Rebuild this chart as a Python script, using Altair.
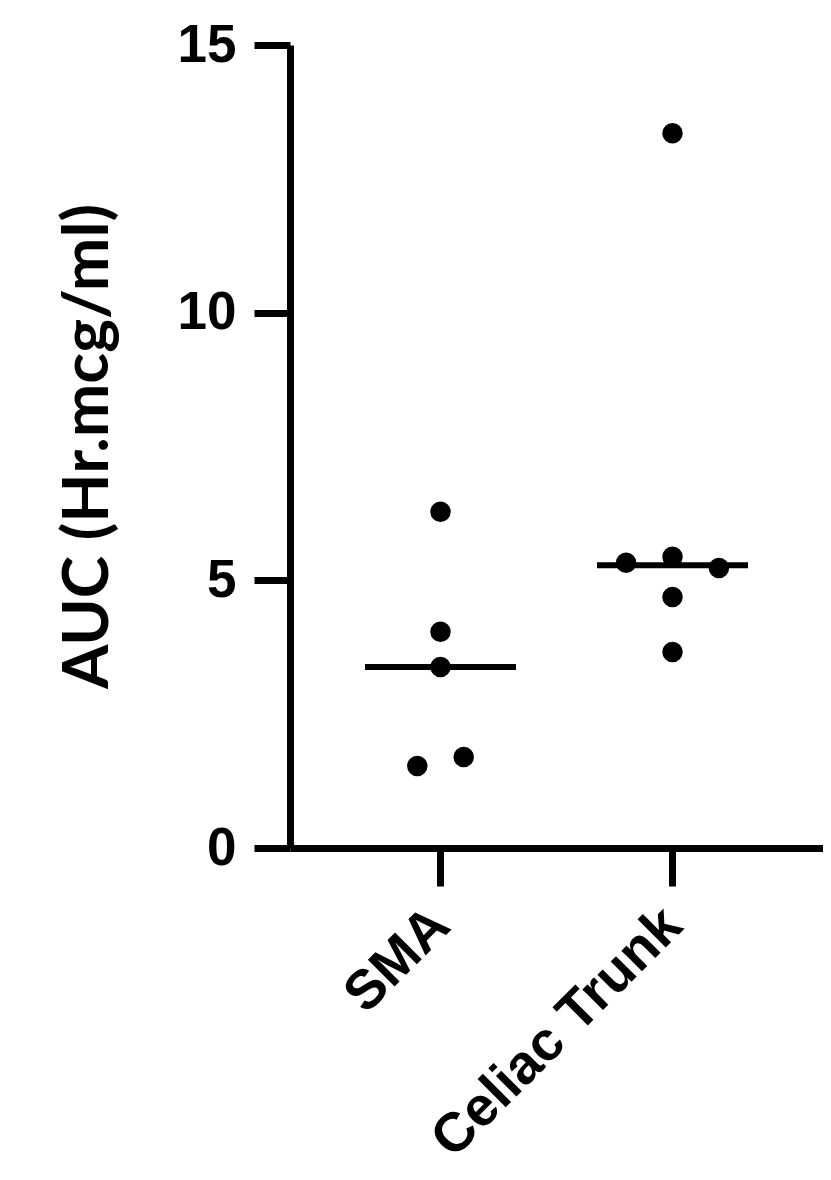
import altair as alt
import pandas as pd

# Data
groups = ["SMA", "SMA", "SMA", "SMA", "SMA",
          "Celiac Trunk", "Celiac Trunk", "Celiac Trunk", "Celiac Trunk", "Celiac Trunk", "Celiac Trunk"]
auc = [6.28, 4.04, 3.38, 1.70, 1.53,
       13.35, 5.33, 5.44, 5.23, 4.69, 3.66]
# scatter-column spread index (beeswarm-style placement within a group)
spread = [0, 0, 0, 0.5, -0.5,
          0, -1, 0, 1, 0, 0]
categories = ["SMA", "Celiac Trunk"]
y_ticks = [0, 5, 10, 15]

df = pd.DataFrame({"group": groups, "auc": auc, "spread": spread})

x_enc = alt.X(
    "group:N",
    sort=categories,
    scale=alt.Scale(domain=categories, paddingInner=0, paddingOuter=0.1487),
    axis=alt.Axis(
        title=None,
        labelAngle=-45,
        labelAlign="right",
        labelBaseline="middle",
        labelFont="Liberation Sans",
        labelFontWeight="bold",
        labelFontSize=55,
        labelColor="black",
        labelPadding=30,
        labelLimit=0,
        tickSize=38,
        tickWidth=7,
        tickColor="black",
        domainWidth=7,
        domainColor="black",
        grid=False,
    ),
)

y_axis = alt.Axis(
    title="AUC (Hr.mcg/ml)",
    values=y_ticks,
    titleFont="Lato",
    titleFontWeight="bold",
    titleFontSize=64,
    titleColor="black",
    titleAngle=-90,
    titleAlign="center",
    titleBaseline="alphabetic",
    titleX=-183,
    titleY=401,
    labelFont="Liberation Sans",
    labelFontWeight="bold",
    labelFontSize=53,
    labelColor="black",
    labelPadding=18,
    tickSize=36,
    tickWidth=7,
    tickColor="black",
    domainWidth=7,
    domainColor="black",
    grid=False,
)

points = alt.Chart(df).mark_circle(size=420, color="black", opacity=1).encode(
    x=x_enc,
    xOffset=alt.XOffset("spread:Q", scale=alt.Scale(domain=[-2.5, 2.5])),
    y=alt.Y("auc:Q", scale=alt.Scale(domain=[0, 15], nice=False), axis=y_axis),
)

medians = alt.Chart(df).mark_tick(color="black", size=151, thickness=6).encode(
    x=x_enc,
    y=alt.Y("median(auc):Q", scale=alt.Scale(domain=[0, 15], nice=False), axis=y_axis),
)

chart = (
    alt.layer(points, medians)
    .properties(
        width=533,
        height=803,
        autosize=alt.AutoSizeParams(type="none"),
        padding={"left": 282, "top": 37, "right": 0, "bottom": 322},
        view=alt.ViewBackground(stroke="white", strokeOpacity=0, strokeWidth=0),
    )
    .configure_view(stroke="white", strokeOpacity=0, strokeWidth=0)
    .configure_axis(grid=False)
    .configure(background="white")
)

chart.save("out.html", embed_options={"renderer": "svg", "actions": False})
